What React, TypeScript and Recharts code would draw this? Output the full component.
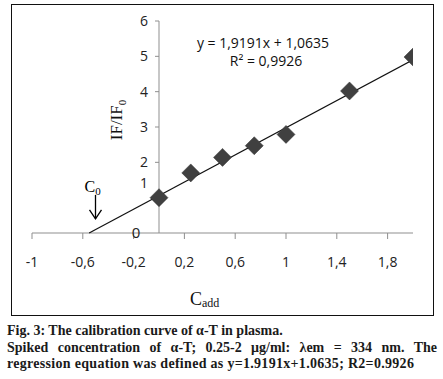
import React from 'react';
import { ComposedChart, Scatter, XAxis, YAxis, ReferenceLine, ReferenceDot } from 'recharts';

// spiked concentration (µg/ml) vs IF/IF0
const concentrations = [0, 0.25, 0.5, 0.75, 1, 1.5, 2];
const ratios = [1.0, 1.7, 2.14, 2.47, 2.79, 4.02, 4.98];

// regression line end points (y = 1,9191x + 1,0635)
const trendX = [-0.55, 2];
const trendY = [0, 4.9];

const xTicks = [-1, -0.6, -0.2, 0.2, 0.6, 1, 1.4, 1.8];
const yTicks = [0, 1, 2, 3, 4, 5, 6];

const c0Tip = { x: -0.5, y: 0.4 };

const points = concentrations.map((x, i) => ({ x, y: ratios[i] }));
const trend = trendX.map((x, i) => ({ x, y: trendY[i] }));

const sans = '"Open Sans", sans-serif';
const serif = '"Liberation Serif", "Times New Roman", serif';
const axisGrey = '#8f8f8f';

const Diamond = (props: any) => {
  const { cx, cy } = props;
  const r = 9;
  return (
    <polygon
      points={`${cx},${cy - r} ${cx + r},${cy} ${cx},${cy + r} ${cx - r},${cy}`}
      fill="#404040"
      stroke="#333"
      strokeWidth={0.5}
    />
  );
};

const YTick = (props: any) => {
  const { cx, cy, value } = props;
  if (value === 0) {
    return (
      <text x={cx - 23} y={cy} dy="0.36em" textAnchor="middle" fontFamily={sans} fontSize={15} fill="#222">
        0
      </text>
    );
  }
  if (value === 1) {
    return (
      <text x={cx - 11} y={cy - 15} dy="0.36em" textAnchor="end" fontFamily={sans} fontSize={14} fill="#222">
        1
      </text>
    );
  }
  return (
    <g>
      <line x1={cx - 4} y1={cy} x2={cx} y2={cy} stroke={axisGrey} strokeWidth={1} />
      <text x={cx - 11} y={cy} dy="0.36em" textAnchor="end" fontFamily={sans} fontSize={14} fill="#222">
        {value}
      </text>
    </g>
  );
};

const C0Arrow = (props: any) => {
  const { cx, cy } = props;
  return (
    <g>
      <line x1={cx} y1={cy - 24} x2={cx} y2={cy} stroke="#000" strokeWidth={1.3} />
      <polyline points={`${cx - 6},${cy - 9} ${cx},${cy} ${cx + 6},${cy - 9}`} fill="none" stroke="#000" strokeWidth={1.3} />
      <text x={cx - 11} y={cy - 27} fontFamily={serif} fontSize={16} fill="#000">
        C<tspan fontSize={11} dy={3}>0</tspan>
      </text>
    </g>
  );
};

const fmt = (v: number) => String(v).replace('.', ',');

export default function App() {
  return (
    <div style={{ position: 'absolute', left: 0, top: 0, width: 443, height: 379, background: '#fff', overflow: 'hidden' }}>
      <div
        style={{
          position: 'absolute',
          left: 11,
          top: 4,
          width: 423,
          height: 312,
          boxSizing: 'border-box',
          border: '1.5px solid #111',
        }}
      />
      <div style={{ position: 'absolute', left: 0, top: 0 }}>
        <ComposedChart width={443} height={320} margin={{ top: 21, right: 30, left: 32, bottom: 47 }}>
          <XAxis
            type="number"
            dataKey="x"
            domain={[-1, 2]}
            ticks={xTicks}
            allowDataOverflow
            tickFormatter={fmt}
            height={40}
            tickSize={6}
            tickMargin={18}
            stroke={axisGrey}
            tick={{ fill: '#222', fontSize: 14, fontFamily: sans }}
          />
          <YAxis type="number" dataKey="y" domain={[0, 6]} hide width={0} />
          <ReferenceLine x={0} stroke={axisGrey} strokeWidth={1} />
          {yTicks.map((v) => (
            <ReferenceDot key={v} x={0} y={v} shape={(p: any) => <YTick {...p} value={v} />} />
          ))}
          <Scatter data={trend} line={{ stroke: '#111', strokeWidth: 1.2 }} shape={() => null} isAnimationActive={false} />
          <Scatter data={points} shape={Diamond} isAnimationActive={false} />
          <ReferenceDot x={c0Tip.x} y={c0Tip.y} shape={C0Arrow} />
        </ComposedChart>
      </div>
      <svg width={443} height={320} style={{ position: 'absolute', left: 0, top: 0, pointerEvents: 'none' }}>
        <text x={263} y={43} dy="0.36em" textAnchor="middle" fontFamily={sans} fontSize={14} fill="#111">
          y = 1,9191x + 1,0635
        </text>
        <text x={266} y={61} dy="0.36em" textAnchor="middle" fontFamily={sans} fontSize={14} fill="#111">
          R² = 0,9926
        </text>
        <text
          transform="translate(122,120) rotate(-90)"
          textAnchor="middle"
          fontFamily={serif}
          fontSize={17}
          fill="#111"
        >
          IF/IF<tspan fontSize={11} dy={4}>0</tspan>
        </text>
        <text x={190} y={305} fontFamily={serif} fontSize={18} fill="#111">
          C<tspan fontSize={12} dy={2}>add</tspan>
        </text>
      </svg>
      <div
        style={{
          position: 'absolute',
          left: 7,
          top: 323,
          width: 430,
          fontFamily: serif,
          fontWeight: 'bold',
          fontSize: 14,
          lineHeight: '16.5px',
          color: '#1a1a1a',
          whiteSpace: 'nowrap',
        }}
      >
        <div>Fig. 3: The calibration curve of α-T in plasma.</div>
        <div style={{ textAlign: 'justify', textAlignLast: 'justify', whiteSpace: 'normal' }}>
          Spiked concentration of α-T; 0.25-2 μg/ml: λem = 334 nm. The
        </div>
        <div style={{ letterSpacing: '0.3px' }}>regression equation was defined as y=1.9191x+1.0635; R2=0.9926</div>
      </div>
    </div>
  );
}
